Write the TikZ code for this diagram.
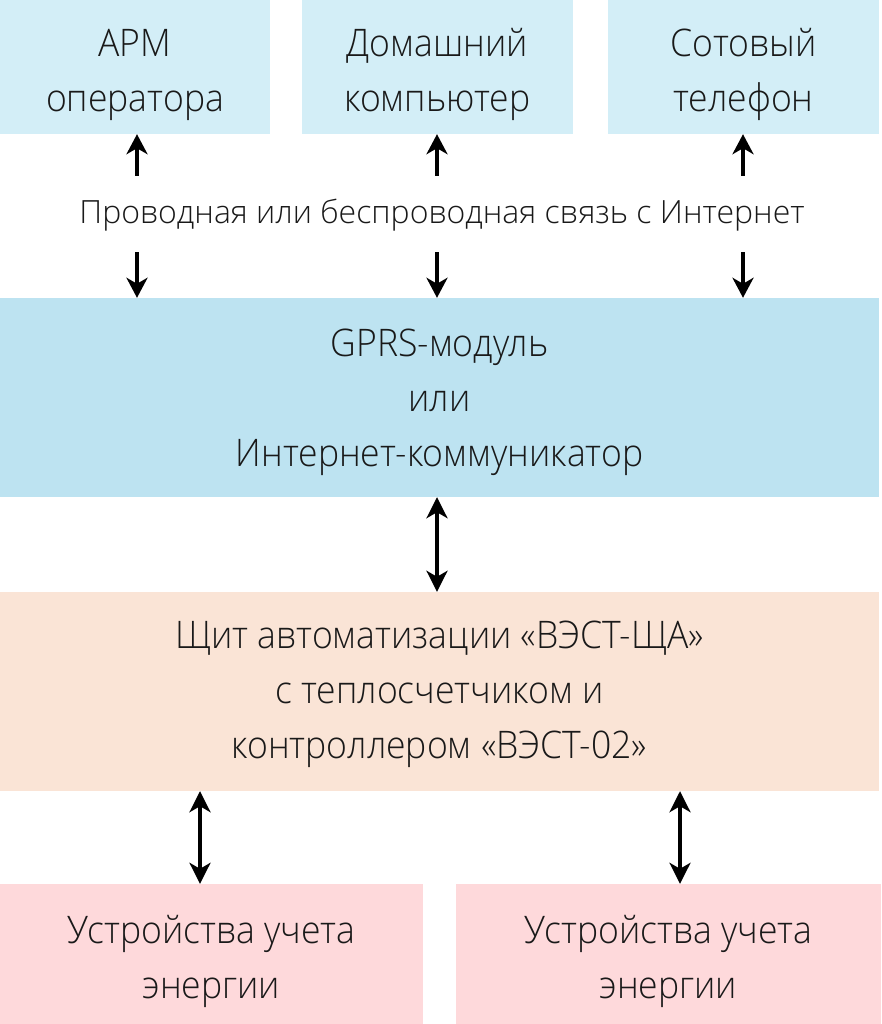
\documentclass[tikz,border=0pt]{standalone}
\usepackage{fontspec}
\setmainfont{Open Sans}[UprightFont=* Light]
\newfontfamily\boxfont{Open Sans}[UprightFont=* Light,FakeStretch=0.935]
\usetikzlibrary{arrows.meta,calc}
\definecolor{topblue}{RGB}{211,238,247}
\definecolor{midblue}{RGB}{189,227,241}
\definecolor{peach}{RGB}{250,228,214}
\definecolor{pinkbox}{RGB}{254,217,219}
\definecolor{txt}{RGB}{25,25,25}
\begin{document}
\begin{tikzpicture}[x=1pt,y=-1pt,
  box/.style={fill=#1,draw=none,inner sep=0pt},
  boxtext/.style={inner sep=0pt,align=center,text=txt,
    font=\boxfont\fontsize{38}{55}\selectfont},
  conn/.style={line width=3.5pt,black,-{Stealth[length=20pt,width=21pt,inset=6pt]}},
  dconn/.style={line width=3.5pt,black,{Stealth[length=21pt,width=21pt,inset=6pt]}-{Stealth[length=21pt,width=21pt,inset=6pt]}}]
\useasboundingbox (0,0) rectangle (881,1024);
\fill[white] (0,0) rectangle (881,1024);
% top row
\node[box=topblue,minimum width=270pt,minimum height=134pt] (arm) at (135,67) {};
\node[boxtext] (armT) at ($(arm.center)+(0,7.5)$) {АРМ\\оператора};
\node[box=topblue,minimum width=271pt,minimum height=134pt] (pc) at (437.5,67) {};
\node[boxtext] (pcT) at ($(pc.center)+(0,7.5)$) {Домашний\\компьютер};
\node[box=topblue,minimum width=271pt,minimum height=134pt] (tel) at (743.5,67) {};
\node[boxtext] (telT) at ($(tel.center)+(0,7.5)$) {Сотовый\\телефон};
% label
\node[text=txt,font=\fontsize{32}{40}\selectfont,inner sep=0pt] (lbl) at (442,215) {Проводная или беспроводная связь с Интернет};
% GPRS
\node[box=midblue,minimum width=879pt,minimum height=199pt] (gprs) at (439.5,397.5) {};
\node[boxtext] (gprsT) at ($(gprs.center)+(0,4.5)$) {GPRS-модуль\\или\\Интернет-коммуникатор};
% shield
\node[box=peach,minimum width=879pt,minimum height=199pt] (shield) at (439.5,691.5) {};
\node[boxtext] (shieldT) at ($(shield.center)+(0,3)$) {Щит автоматизации «ВЭСТ-ЩА»\\с теплосчетчиком и\\контроллером «ВЭСТ-02»};
% bottom
\node[box=pinkbox,minimum width=423pt,minimum height=140pt] (e1) at (211.5,954) {};
\node[boxtext] (e1T) at ($(e1.center)+(0,7.5)$) {Устройства учета\\энергии};
\node[box=pinkbox,minimum width=425pt,minimum height=140pt] (e2) at (668.5,954) {};
\node[boxtext] (e2T) at ($(e2.center)+(0,7.5)$) {Устройства учета\\энергии};
% free ends
\coordinate (u1) at (137,176);
\coordinate (u2) at (437,176);
\coordinate (u3) at (743,176);
\coordinate (d1) at (137,252);
\coordinate (d2) at (437,252);
\coordinate (d3) at (743,252);
% connectors
\draw[conn] (u1) -- (u1 |- arm.south);
\draw[conn] (u2) -- (u2 |- pc.south);
\draw[conn] (u3) -- (u3 |- tel.south);
\draw[conn] (d1) -- (d1 |- gprs.north);
\draw[conn] (d2) -- (d2 |- gprs.north);
\draw[conn] (d3) -- (d3 |- gprs.north);
\coordinate (m) at (437,0);
\draw[dconn] (m |- gprs.south) -- (m |- shield.north);
\coordinate (b1) at (200,0);
\coordinate (b2) at (680,0);
\draw[dconn] (b1 |- shield.south) -- (b1 |- e1.north);
\draw[dconn] (b2 |- shield.south) -- (b2 |- e2.north);
\end{tikzpicture}
\end{document}
